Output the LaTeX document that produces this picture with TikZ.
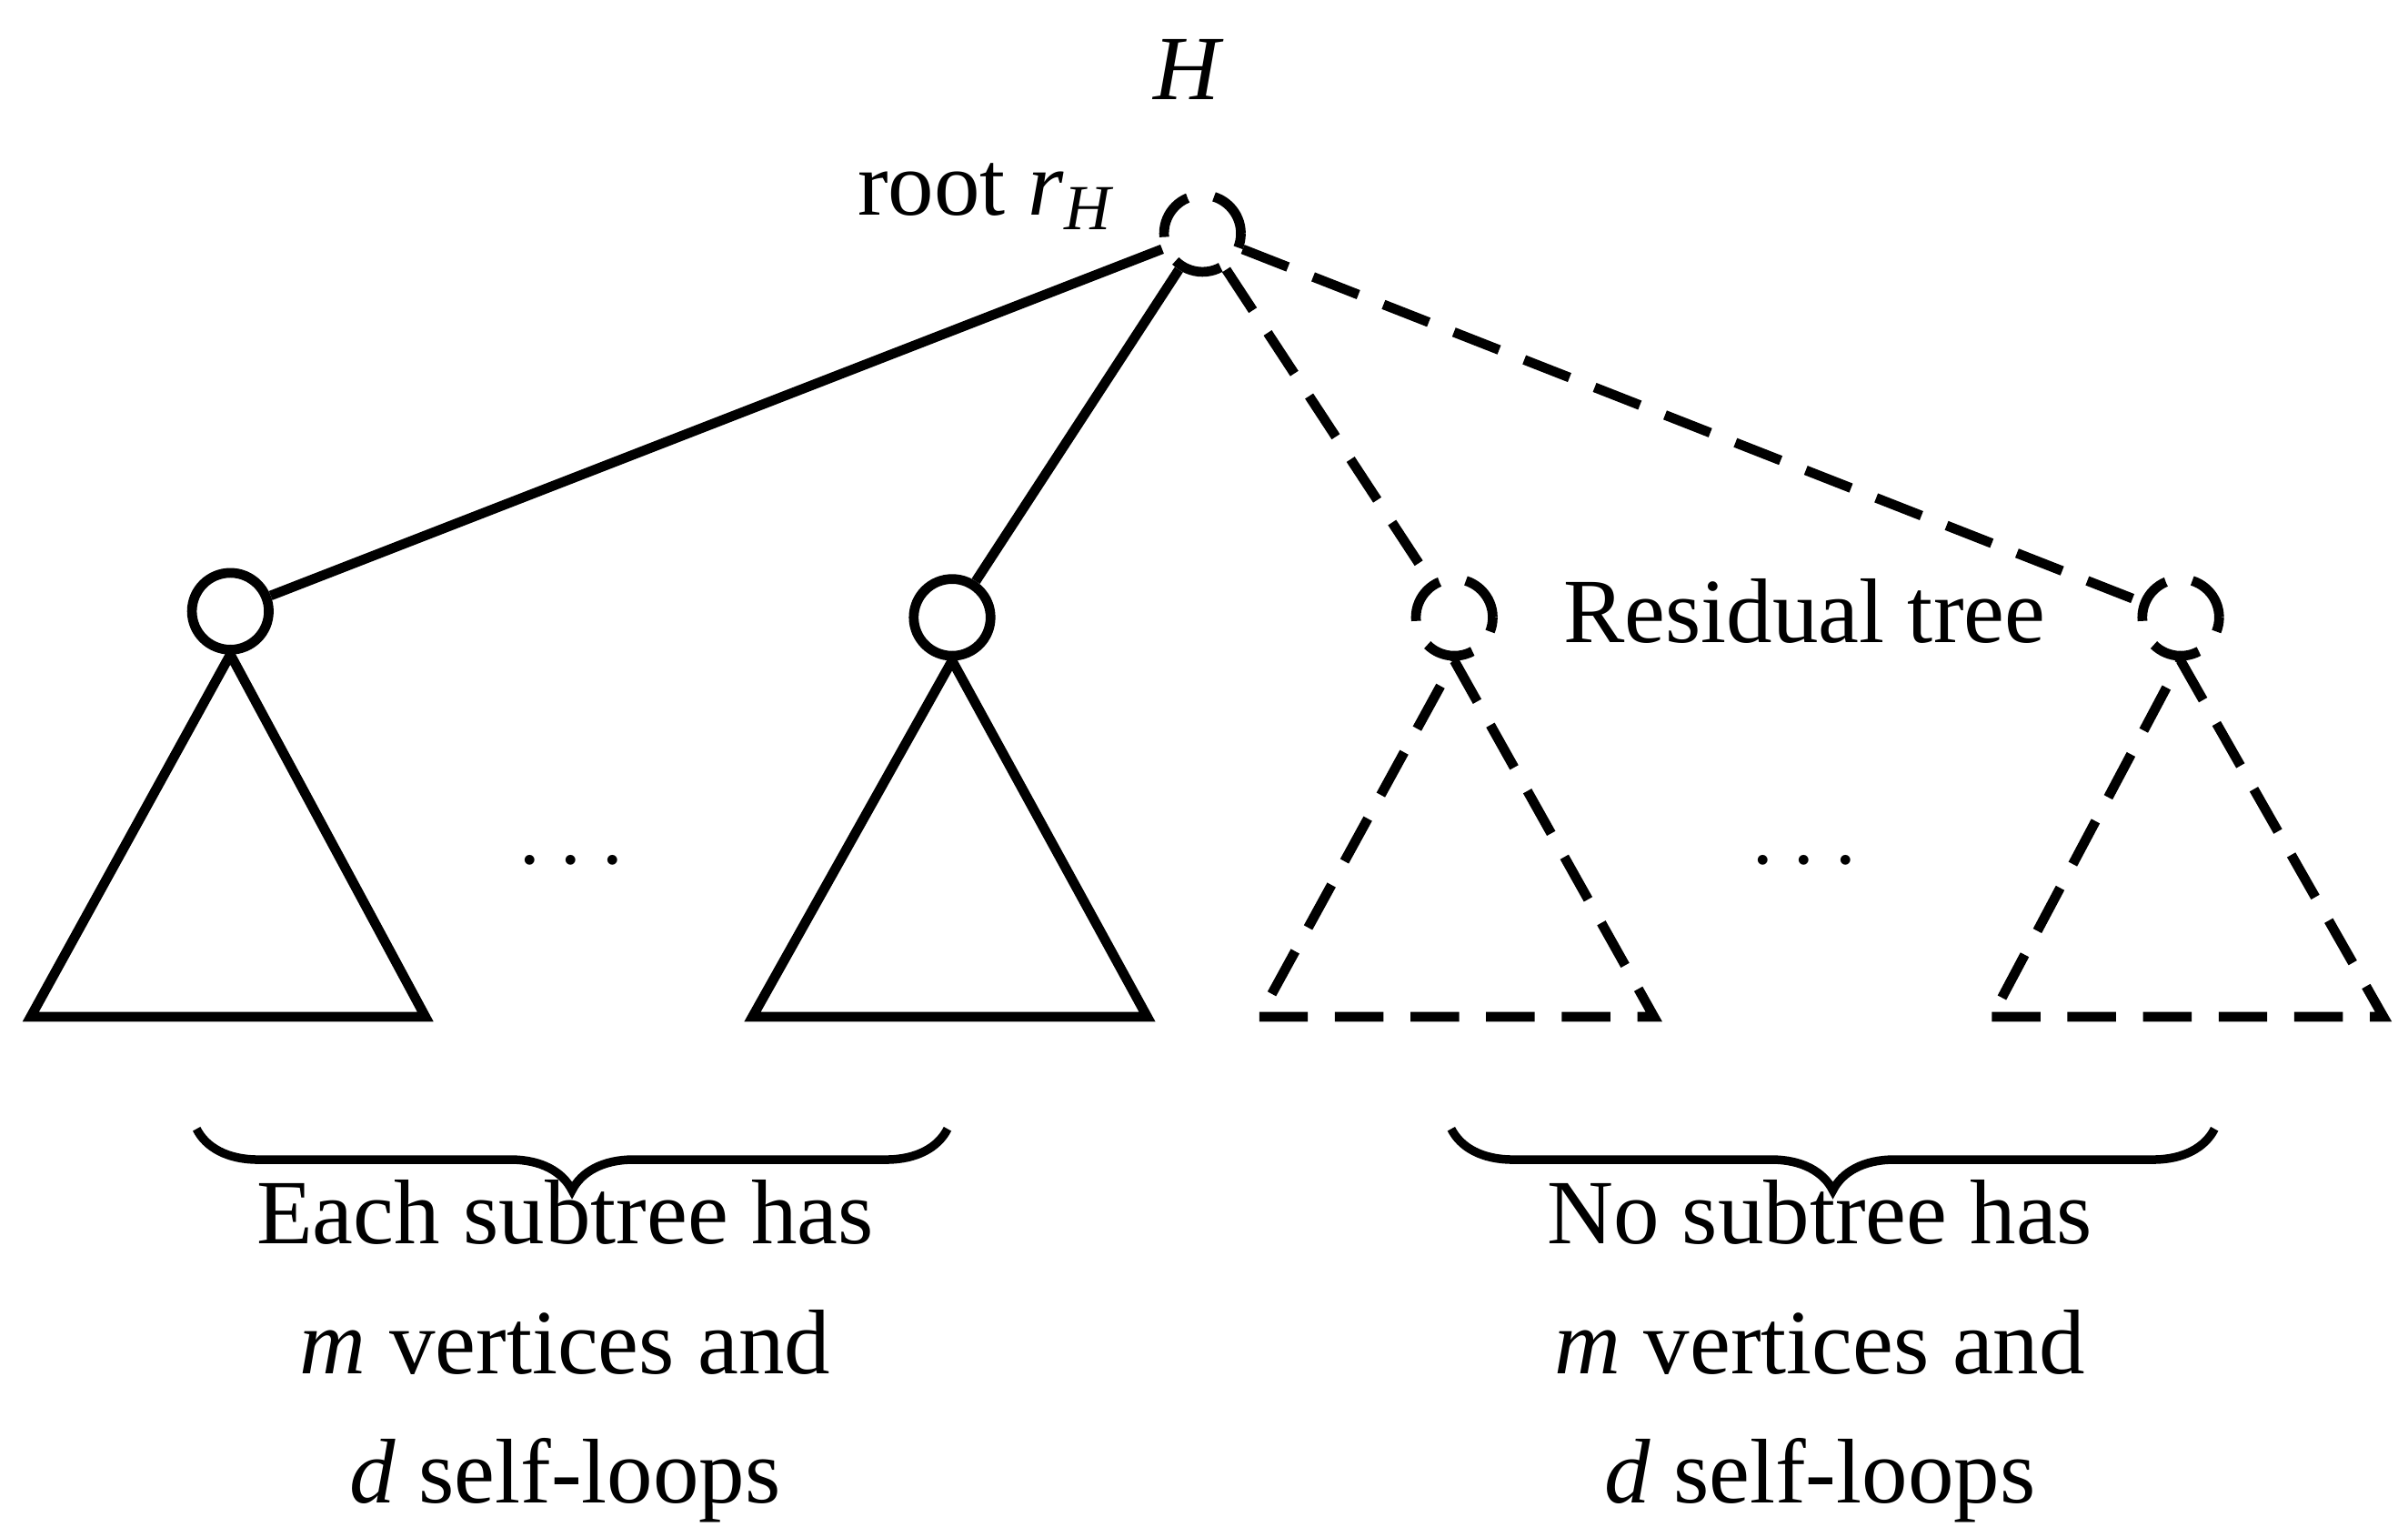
\documentclass[tikz,border=0pt]{standalone}
\usepackage{fontspec}
\setmainfont{Liberation Serif}
\usetikzlibrary{decorations.pathreplacing}
\begin{document}
\begin{tikzpicture}[x=0.01cm,y=-0.01cm,line width=1.8pt,
  nd/.style={circle,draw,minimum size=0.5cm,inner sep=0pt},
  dn/.style={nd,dashed},
  dsh/.style={dash pattern=on 9pt off 5pt},
  txt/.style={font=\fontsize{17}{24}\selectfont,align=center}]
\useasboundingbox (0,0) rectangle (1568,994);
\node[nd,dsh] (r) at (783,152) {};
\node[txt] (h) at (773,45) {\itshape H};
\node[txt,anchor=east] (rl) at (740,128) {root \textit{r}$_{\mathit{H}}$};
\node[nd] (a) at (150,398) {};
\node[nd] (b) at (620,402) {};
\node[nd,dsh] (c) at (947,402) {};
\node[nd,dsh] (d) at (1420,402) {};
\draw (r) -- (a); \draw (r) -- (b);
\draw[dsh] (r) -- (c); \draw[dsh] (r) -- (d);
\coordinate (a1) at (20,662); \coordinate (a2) at (277,662);
\coordinate (b1) at (490,662); \coordinate (b2) at (747,662);
\coordinate (c1) at (820,662); \coordinate (c2) at (1077,662);
\coordinate (d1) at (1297,662); \coordinate (d2) at (1552,662);
\draw[line join=miter] (a1) -- (a2) -- (a.south) -- cycle;
\draw[line join=miter] (b1) -- (b2) -- (b.south) -- cycle;
\draw[dsh] (c1) -- (c2) -- (c.south) -- cycle;
\draw[dsh] (d1) -- (d2) -- (d.south) -- cycle;
\node[txt] (dl) at (372,562) {$\cdots$};
\node[txt] (dr) at (1175,562) {$\cdots$};
\node[txt] (res) at (1175,398) {Residual tree};
\coordinate (bl1) at (128,735); \coordinate (bl2) at (617,735);
\coordinate (br1) at (945,735); \coordinate (br2) at (1442,735);
\draw[line width=1.6pt,decorate,decoration={brace,mirror,amplitude=0.4cm}] (bl1) -- (bl2);
\draw[line width=1.6pt,decorate,decoration={brace,mirror,amplitude=0.4cm}] (br1) -- (br2);
\node[txt] (tl) at (368,880) {Each subtree has\\ \textit{m} vertices and\\ \textit{d} self-loops};
\node[txt] (tr) at (1185,880) {No subtree has\\ \textit{m} vertices and\\ \textit{d} self-loops};
\end{tikzpicture}
\end{document}
